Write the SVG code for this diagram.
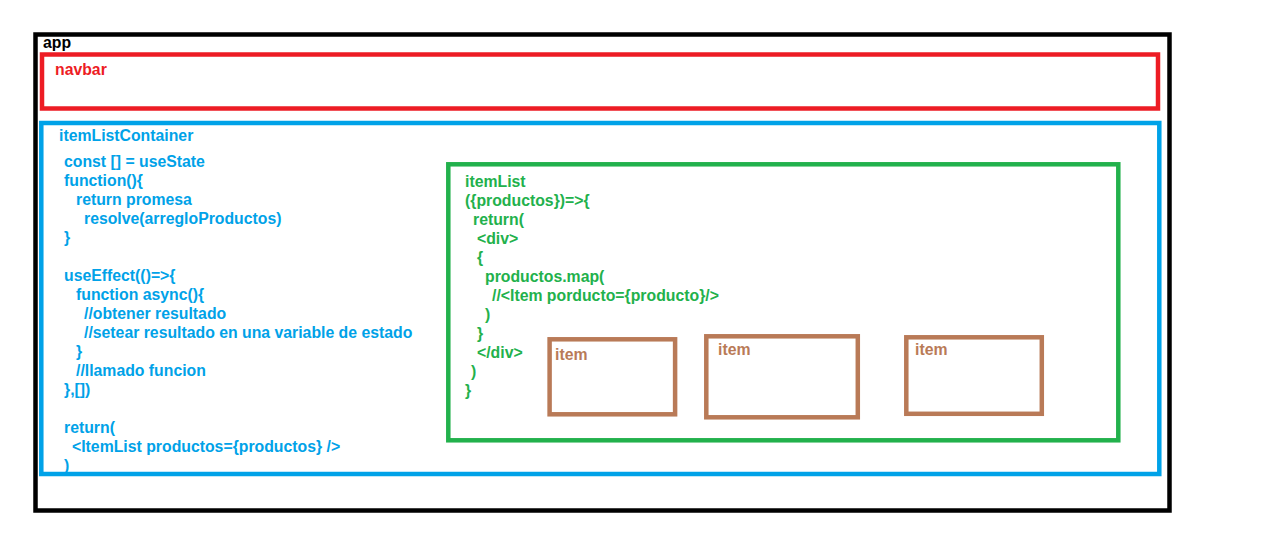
<svg xmlns="http://www.w3.org/2000/svg" width="1280" height="538" viewBox="0 0 1280 538">
<style>
text{font-family:"Liberation Sans",Arial,sans-serif;font-weight:bold;font-size:15.8px}
.box{fill:none;stroke-width:4.5}
.k{fill:#000}.r{fill:#ED1C24}.b{fill:#00A2E8}.g{fill:#22B14C}.n{fill:#B97A57}
</style>
<rect width="1280" height="538" fill="#fff"/>
<g id="app">
<rect class="box" x="35.5" y="34.5" width="1134" height="476" stroke="#000" stroke-width="5"/>
<text class="k" x="43" y="48">app</text>
</g>
<g id="navbar">
<rect class="box" x="42" y="54.5" width="1116" height="54" stroke="#ED1C24"/>
<text class="r" x="55" y="75">navbar</text>
</g>
<g id="itemListContainer">
<rect class="box" x="41.3" y="123" width="1118" height="351" stroke="#00A2E8"/>
<text class="b" x="59" y="141">itemListContainer</text>
<text class="b" x="64" y="167">const [] = useState</text>
<text class="b" x="64" y="186">function(){</text>
<text class="b" x="76" y="205">return promesa</text>
<text class="b" x="84" y="224">resolve(arregloProductos)</text>
<text class="b" x="64" y="243">}</text>
<text class="b" x="64" y="281">useEffect(()=&gt;{</text>
<text class="b" x="76" y="300">function async(){</text>
<text class="b" x="84" y="319">//obtener resultado</text>
<text class="b" x="84" y="338">//setear resultado en una variable de estado</text>
<text class="b" x="76" y="357">}</text>
<text class="b" x="76" y="376">//llamado funcion</text>
<text class="b" x="64" y="395">},[])</text>
<text class="b" x="64" y="433">return(</text>
<text class="b" x="72" y="452">&lt;ItemList productos={productos} /&gt;</text>
<text class="b" x="64" y="471">)</text>
</g>
<g id="itemList">
<rect class="box" x="448.3" y="164.3" width="670" height="276" stroke="#22B14C"/>
<text class="g" x="465" y="187">itemList</text>
<text class="g" x="465" y="206">({productos})=&gt;{</text>
<text class="g" x="473" y="225">return(</text>
<text class="g" x="477" y="244">&lt;div&gt;</text>
<text class="g" x="477" y="263">{</text>
<text class="g" x="485" y="282">productos.map(</text>
<text class="g" x="492" y="301">//&lt;Item porducto={producto}/&gt;</text>
<text class="g" x="485" y="320">)</text>
<text class="g" x="477" y="339">}</text>
<text class="g" x="477" y="358">&lt;/div&gt;</text>
<text class="g" x="471" y="377">)</text>
<text class="g" x="465" y="396">}</text>
</g>
<g id="item1">
<rect class="box" x="549.6" y="339.3" width="125.5" height="75" stroke="#B97A57"/>
<text class="n" x="555" y="360">item</text>
</g>
<g id="item2">
<rect class="box" x="706.3" y="336.3" width="151.5" height="81" stroke="#B97A57"/>
<text class="n" x="718" y="355">item</text>
</g>
<g id="item3">
<rect class="box" x="906.3" y="337.3" width="135.5" height="76.5" stroke="#B97A57"/>
<text class="n" x="915" y="355">item</text>
</g>
<g id="connectors"></g>
</svg>
